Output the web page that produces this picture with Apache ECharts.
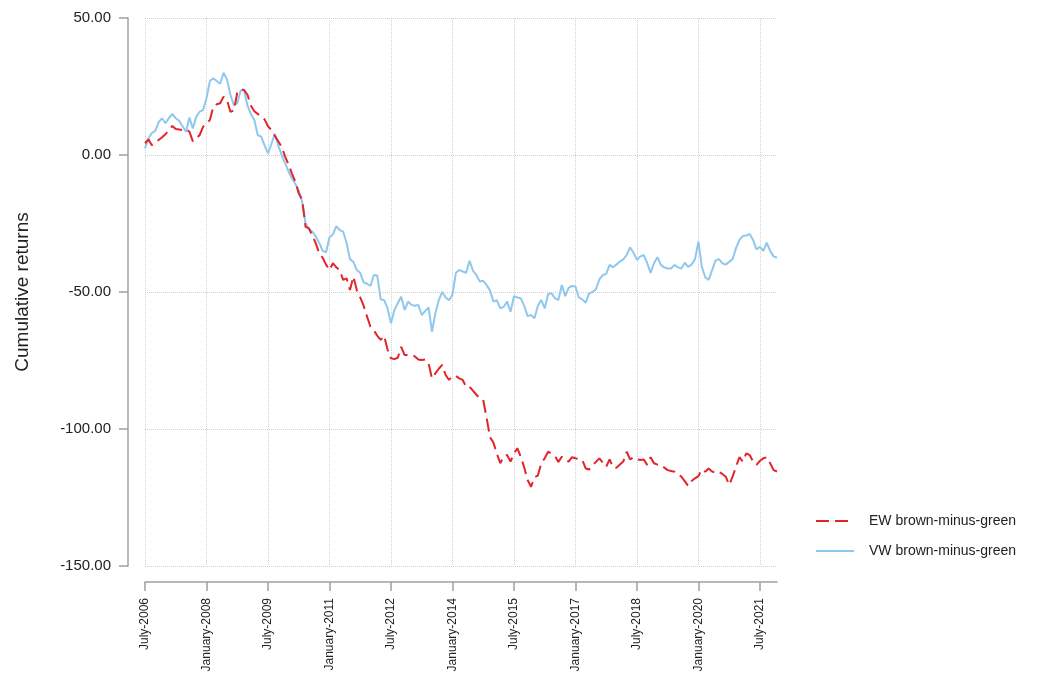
<!DOCTYPE html>
<html>
<head>
<meta charset="utf-8">
<script src="https://cdn.jsdelivr.net/npm/echarts@6.0.0/dist/echarts.min.js"></script>
<style>
  html, body { margin: 0; padding: 0; background: #fff; }
  #chart { width: 1048px; height: 677px; }
</style>
</head>
<body>
<div id="chart"></div>
<script>
// monthly observations, July 2006 .. December 2021
const startYear = 2006;
const startMonth = 6; // 0-based, July
const monthNames = ["January", "February", "March", "April", "May", "June",
  "July", "August", "September", "October", "November", "December"];

const yTicks = [50, 0, -50, -100, -150];

// EW brown-minus-green cumulative returns
const ewReturns = [
  4.3, 5.7, 3.6, 4.5, 5.5, 6.5, 7.6, 9, 10.6, 9.5,
  9.3, 9.1, 9.4, 8.5, 5, 6, 7.3, 10.3, 11.5, 12.8,
  17.6, 18.5, 18.9, 21.3, 20, 15.8, 16.2, 22.7, 24, 23.7,
  22, 18, 16, 15, 14, 13, 10.5, 9.1, 7, 5,
  3, -0.5, -3.5, -6.7, -9.7, -14, -16.4, -26.2, -26.8, -29.5,
  -32.2, -35.9, -37.5, -40, -42, -39.5, -41, -42, -45.6, -45,
  -49.3, -44.4, -49.3, -52, -55, -59, -62.7, -64, -66, -67.5,
  -66, -71, -74.2, -74.5, -74, -70, -73, -73, -73, -73.5,
  -74.6, -74.8, -74.6, -76, -81.5, -79.7, -78, -76.6, -80.3, -82.1,
  -80.7, -80.7, -81.5, -82.1, -84.6, -84.6, -86, -87.5, -88.8, -89.4,
  -96, -103, -105, -109, -112.5, -110, -109.5, -111.9, -109, -107,
  -110.1, -114, -118.6, -121.1, -117.6, -117, -112.5, -110.7, -108.3, -109,
  -109.9, -112, -110.1, -111, -111.9, -110.3, -110.7, -111, -111.3, -114.4,
  -114.8, -113.1, -112, -110.7, -112.3, -113.8, -111.1, -114.1, -114.1, -113,
  -111.9, -108.3, -111.1, -110.3, -111, -111.3, -111.1, -113.1, -110.3, -112.5,
  -113, -113.1, -114.1, -115, -115.3, -115.6, -116.5, -117.4, -119, -120.8,
  -119, -118, -117.2, -114.8, -115.6, -114.4, -115.5, -116, -115.6, -116.4,
  -117.4, -120.4, -117.4, -113.8, -110.3, -111.9, -108.9, -109.5, -111.9, -113.1,
  -111.6, -110.7, -110.3, -112.5, -115, -115.5
];

// VW brown-minus-green cumulative returns
const vwReturns = [
  2.4, 6, 8, 8.8, 12, 13.4, 11.6, 13.5, 15, 13.4,
  12.5, 10.5, 8.5, 13.7, 9.7, 14, 15.8, 16.4, 20.7, 27,
  28, 27, 26, 30, 27.5, 22, 18.2, 18.9, 23.5, 23.7,
  18, 15, 12.8, 7.3, 6.7, 3.5, 0.6, 4, 7.7, 3.5,
  0, -3, -6, -8.5, -10.5, -13, -17, -25, -27, -28,
  -29.8, -32, -35, -35.5, -30, -29, -26, -27.4, -28, -32,
  -38, -39, -42, -43, -46.5, -47, -47.8, -43.8, -44, -52.7,
  -53, -56, -61.4, -56.6, -54, -51.7, -56.6, -53.5, -54.7, -55,
  -54.7, -58.4, -57, -55.6, -64.5, -57.8, -53, -50, -52, -53,
  -51, -43, -42, -42.5, -43, -38.6, -42.2, -43.8, -46.2, -45.9,
  -47.5, -49.5, -53.5, -53, -56, -55.4, -53.5, -57.2, -51.5, -52,
  -52.3, -55, -58.8, -58.4, -59.6, -55, -52.9, -56, -50.7, -50.5,
  -52.3, -52.9, -47.4, -51.5, -48.5, -47.8, -48, -52, -52.7, -53.9,
  -50.5, -50, -49, -45.4, -43.8, -43.4, -40.1, -41, -40, -38.9,
  -38.1, -36.5, -33.7, -35.7, -38.3, -37, -36.5, -39.5, -43, -39.5,
  -37.3, -40.1, -41, -41.4, -41.4, -40.1, -41, -41.4, -39.3, -40.8,
  -40, -38, -31.6, -40.8, -44.6, -45.6, -42, -38.5, -38, -39.5,
  -40, -39, -38, -34, -31, -29.6, -29.4, -28.8, -31, -34.5,
  -33.5, -35, -32, -35, -37, -37.5
];

// month labels like "July-2006"
const months = ewReturns.map((_, i) => {
  const m = startMonth + i;
  return monthNames[m % 12] + "-" + (startYear + Math.floor(m / 12));
});

const FONT = "'Liberation Sans', Arial, sans-serif";
const AXIS_GREY = "#a0a0a0";
const GRID_GREY = "#d0d0d0";

const chart = echarts.init(document.getElementById("chart"));

chart.setOption({
  animation: false,
  backgroundColor: "#ffffff",
  grid: {
    left: 145,
    right: 271,
    top: 18,
    bottom: 111,
  },
  legend: {
    orient: "vertical",
    left: 810,
    top: 509,
    itemWidth: 38,
    itemHeight: 10,
    itemGap: 16,
    itemStyle: { opacity: 0 }, // line only, no marker
    textStyle: { fontFamily: FONT, fontSize: 14, color: "#222", padding: [0, 0, 0, 10] },
    data: ["EW brown-minus-green", "VW brown-minus-green"],
  },
  xAxis: {
    type: "category",
    boundaryGap: false,
    data: months,
    offset: 16,
    axisLine: { onZero: false, lineStyle: { color: AXIS_GREY, width: 1.5 } },
    axisTick: {
      interval: 17,
      length: 9,
      lineStyle: { color: AXIS_GREY, width: 1.5 },
    },
    axisLabel: {
      interval: 17,
      rotate: 90,
      margin: 16,
      fontFamily: FONT,
      fontSize: 12,
      color: "#222",
    },
    splitLine: {
      show: true,
      interval: 17,
      lineStyle: { color: GRID_GREY, type: "dotted", width: 1 },
    },
  },
  yAxis: {
    type: "value",
    min: yTicks[yTicks.length - 1],
    max: yTicks[0],
    interval: 50,
    offset: 17,
    name: "Cumulative returns",
    nameLocation: "middle",
    nameGap: 96,
    nameTextStyle: { fontFamily: FONT, fontSize: 19, color: "#222" },
    axisLine: { show: true, lineStyle: { color: AXIS_GREY, width: 1.5 } },
    axisTick: { show: true, length: 9, lineStyle: { color: AXIS_GREY, width: 1.5 } },
    axisLabel: {
      margin: 17,
      fontFamily: FONT,
      fontSize: 15,
      color: "#222",
      formatter: (v) => v.toFixed(2),
    },
    splitLine: {
      show: true,
      lineStyle: { color: GRID_GREY, type: "dotted", width: 1 },
    },
  },
  series: [
    {
      name: "EW brown-minus-green",
      type: "line",
      data: ewReturns,
      symbol: "none",
      z: 3,
      lineStyle: { color: "#e3242b", width: 2, type: [13, 6] },
      itemStyle: { color: "#e3242b" },
    },
    {
      name: "VW brown-minus-green",
      type: "line",
      data: vwReturns,
      symbol: "none",
      z: 2,
      lineStyle: { color: "#8fc8ef", width: 2 },
      itemStyle: { color: "#8fc8ef" },
    },
  ],
});
</script>
</body>
</html>
